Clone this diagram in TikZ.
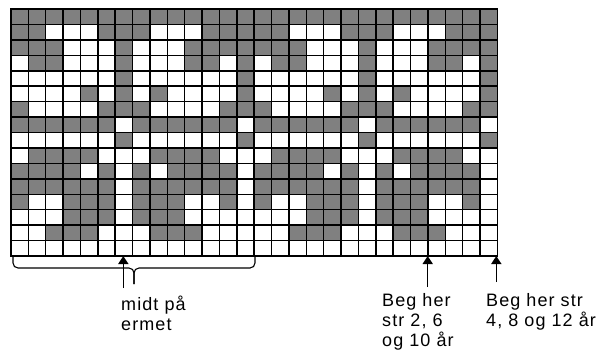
\documentclass[tikz,border=0pt]{standalone}
\usepackage{fontspec}
\setmainfont{Liberation Sans}
\usetikzlibrary{arrows.meta}
\definecolor{stitchGray}{RGB}{128,128,128}

\tikzset{
  stitch/.style={fill=stitchGray},
  gridline/.style={draw=black,line width=1.5pt,line cap=rect},
  bracket/.style={draw=black,line width=1.1pt,rounded corners=5pt},
  uparrow/.style={draw=black,line width=1.5pt,-{Triangle[length=8pt,width=10pt]}},
  note/.style={anchor=north west,inner sep=0pt,align=left,font=\fontsize{18}{20}\selectfont\addfontfeatures{LetterSpace=6}}
}

\begin{document}
\begin{tikzpicture}[x=1pt,y=-1pt]
\path[use as bounding box] (0,0) rectangle (607,354);
\def\cellw{17.37}
\def\cellh{15.44}

% grey stitches, one repeat of 14 drawn twice
\foreach \r/\cols in {1/{1,...,14},2/{1,2,6,7,8,12,13,14},3/{1,2,3,7,11,12,13,14},4/{2,3,7,11,12,14},
  5/{7,14},6/{5,7,9,14},7/{1,6,7,8,13,14},8/{1,2,3,4,5,6,8,9,10,11,12,13},9/{7,14},
  10/{2,3,4,5,9,10,11,12},11/{1,2,3,4,6,8,10,11,12,13},12/{1,2,3,4,5,6,8,9,10,11,12,13},
  13/{1,4,5,6,8,9,10,13},14/{4,5,6,8,9,10},15/{3,4,5,9,10,11}}{
  \foreach \c in \cols {
    \fill[stitch] ({11+(\c-1)*\cellw},{9+(\r-1)*\cellh}) rectangle ++(\cellw,\cellh);
    \fill[stitch] ({11+(\c+13)*\cellw},{9+(\r-1)*\cellh}) rectangle ++(\cellw,\cellh);
  }
}

% grid
\foreach \c in {0,...,28}
  \draw[gridline] ({11+\c*\cellw},9) -- ({11+\c*\cellw},{9+16*\cellh});
\foreach \r in {0,...,16}
  \draw[gridline] (11,{9+\r*\cellh}) -- ({11+28*\cellw},{9+\r*\cellh});

% brace under the first repeat
\draw[bracket] (13,257) -- (13,268) -- (134,268) -- (134,284);
\draw[bracket] (255,257) -- (255,268) -- (134,268) -- (134,284);

\coordinate (midtip) at (123.3,256);
\coordinate (midtail) at (123.3,288);
\coordinate (beg2tip) at (427.7,256);
\coordinate (beg2tail) at (427.7,287);
\coordinate (beg4tip) at (496.3,256);
\coordinate (beg4tail) at (496.3,282);

\draw[uparrow] (midtail) -- (midtip);
\draw[uparrow] (beg2tail) -- (beg2tip);
\draw[uparrow] (beg4tail) -- (beg4tip);

\node[note] (midtxt) at (121,296) {midt på\\ermet};
\node[note] (beg2txt) at (382,293) {Beg her\\str 2, 6\\og 10 år};
\node[note] (beg4txt) at (486,293) {Beg her str\\4, 8 og 12 år};
\end{tikzpicture}
\end{document}
